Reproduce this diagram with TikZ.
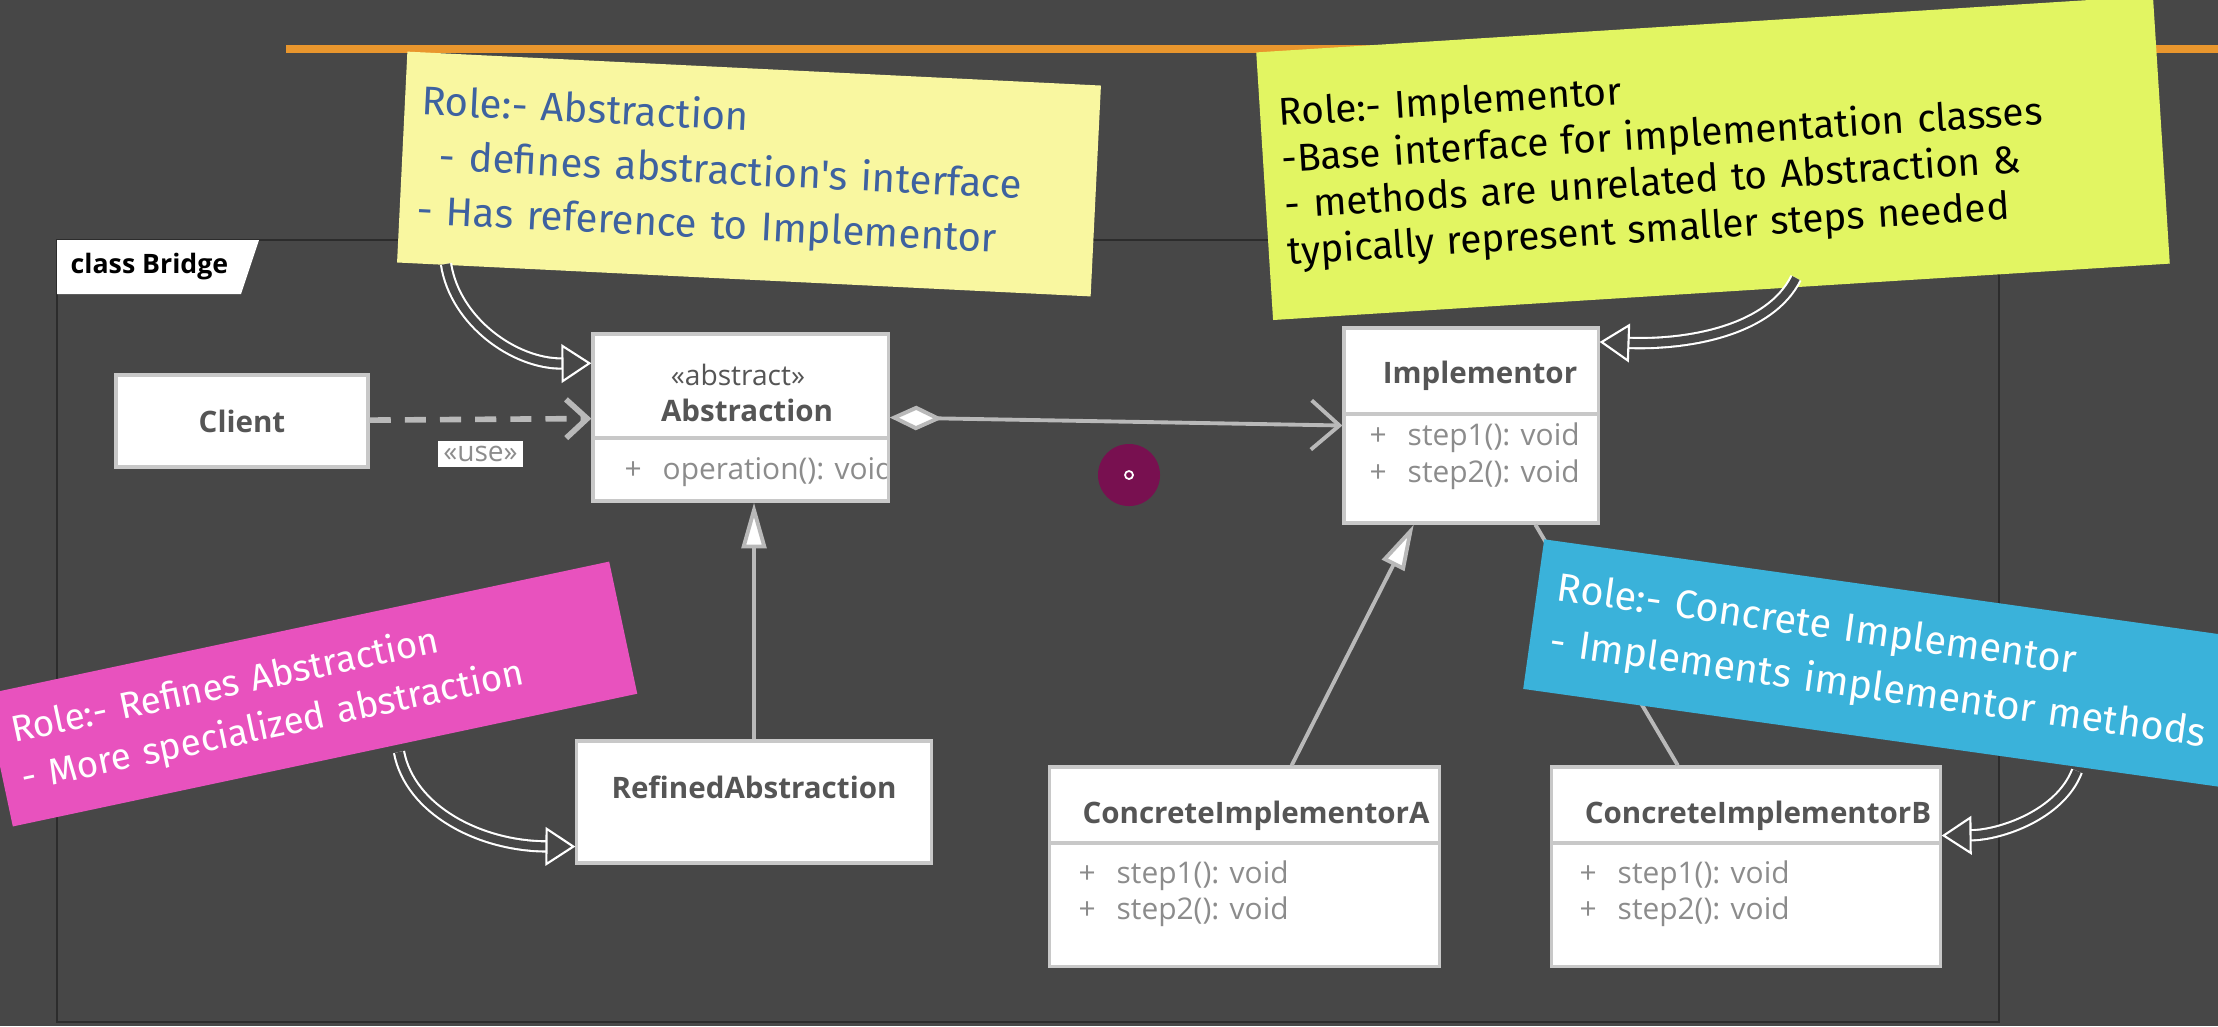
\documentclass[tikz,border=0pt]{standalone}
\usepackage{tikz}
\usetikzlibrary{positioning,shapes,arrows.meta}
\usepackage{xcolor}
\usepackage{fontspec}
\setmainfont{Open Sans}
\newfontfamily\handfont{Fira Sans}

\definecolor{bgdark}{RGB}{71,71,71}
\definecolor{framegray}{RGB}{44,44,44}
\definecolor{lineorange}{RGB}{233,150,45}
\definecolor{noteyellow}{RGB}{249,247,160}
\definecolor{noteblue}{RGB}{62,98,160}
\definecolor{notegreen}{RGB}{226,245,98}
\definecolor{notepink}{RGB}{232,82,190}
\definecolor{notecyan}{RGB}{58,178,218}
\definecolor{boxborder}{RGB}{200,200,200}
\definecolor{titlegray}{RGB}{85,85,85}
\definecolor{opgray}{RGB}{140,140,140}
\definecolor{connector}{RGB}{185,185,185}
\definecolor{cursorpurple}{RGB}{120,16,80}

\newcommand{\op}[1]{\makebox[0.38cm][l]{+}#1}

\begin{document}
\begin{tikzpicture}[x=0.01cm, y=-0.01cm,
    classbox/.style={rectangle, draw=boxborder, line width=0.9pt, fill=white, inner sep=0pt},
    classname/.style={font=\fontsize{8.4}{10}\selectfont\bfseries, text=titlegray, inner sep=0pt},
    member/.style={font=\fontsize{8.5}{10}\selectfont, text=opgray, anchor=west, inner sep=0pt},
    divider/.style={draw=boxborder, line width=0.9pt},
    sticky/.style={rectangle, inner sep=0pt, align=left},
    callout/.style={draw=white, line width=0.6pt, double=bgdark, double distance=2.3pt,
        -{Triangle[open, length=8.5pt, width=11pt]}},
    assoc/.style={draw=connector, line width=1.1pt},
    generalize/.style={assoc, -{Triangle[fill=white, length=13pt, width=7pt]}},
]
    \useasboundingbox (0,0) rectangle (2218,1026);
    \clip (0,0) rectangle (2218,1026);
    \fill[bgdark] (0,0) rectangle (2218,1026);

    % orange rule at the top
    \draw[lineorange, line width=2.4pt] (286,49) -- (2218,49);

    % diagram frame and its tab
    \draw[framegray, line width=0.7pt] (57,240) rectangle (1999,1022);
    \fill[white] (57,240) -- (259,240) -- (241,294) -- (57,294) -- cycle;
    \node (frametab) [anchor=west, inner sep=0pt, font=\fontsize{7.6}{9}\selectfont\bfseries, text=black] at (70,267) {class Bridge};

    % classes
    \node (client) [classbox, classname, minimum width=2.52cm, minimum height=0.92cm] at (242,421) {Client};

    \node (abs) [classbox, minimum width=2.95cm, minimum height=1.67cm] at (740.5,417.5) {};
    \draw[divider] (593,438) -- (888,438);
    \node (absstereo) [font=\fontsize{8}{10}\selectfont, text=titlegray, inner sep=0pt] at (738,375) {«abstract»};
    \node (absname) [classname] at (747,410) {Abstraction};
    \begin{scope}
        \clip (593,438) rectangle (886,501);
        \node (absop) [member] at (624,472) {\op{operation(): void}};
    \end{scope}

    \node (impl) [classbox, minimum width=2.54cm, minimum height=1.95cm] at (1471,425.5) {};
    \draw[divider] (1344,414) -- (1598,414);
    \node (implname) [classname] at (1480,376) {Implementor};
    \node (implop1) [member] at (1369,438) {\op{step1(): void}};
    \node (implop2) [member] at (1369,475) {\op{step2(): void}};

    \node (refabs) [classbox, classname, text depth=0.3cm, minimum width=3.54cm, minimum height=1.22cm] at (754,802) {RefinedAbstraction};

    \node (cia) [classbox, minimum width=3.89cm, minimum height=1.99cm] at (1244.5,866.5) {};
    \draw[divider] (1050,843) -- (1439,843);
    \node (cianame) [classname] at (1256,816) {ConcreteImplementorA};
    \node (ciaop1) [member] at (1078,876) {\op{step1(): void}};
    \node (ciaop2) [member] at (1078,912) {\op{step2(): void}};

    \node (cib) [classbox, minimum width=3.88cm, minimum height=1.99cm] at (1746,866.5) {};
    \draw[divider] (1552,843) -- (1940,843);
    \node (cibname) [classname] at (1758,816) {ConcreteImplementorB};
    \node (cibop1) [member] at (1579,876) {\op{step1(): void}};
    \node (cibop2) [member] at (1579,912) {\op{step2(): void}};

    % relations
    \draw[draw=connector, line width=1.6pt, dash pattern=on 6pt off 4pt, -{Straight Barb[length=6pt, width=11pt]}]
        (client) -- node (uselabel) [anchor=north, yshift=-0.19cm, fill=white, inner sep=1.5pt, font=\fontsize{8}{10}\selectfont, text=opgray] {«use»} (abs);
    \draw[assoc, {Diamond[fill=white, length=15pt, width=7pt]}-{Straight Barb[length=8pt, width=14pt]}] (abs.east) -- (impl.west);
    \draw[generalize] (refabs.north) -- (refabs.north |- abs.south);
    \draw[generalize] (cia.65) -- (impl.240);
    \draw[assoc] (cib.124) -- (impl.-57);

    % cursor mark
    \node (cursor) [circle, fill=cursorpurple, minimum size=0.62cm, inner sep=0pt] at (1129,475) {};
    \node (cursordot) [circle, draw=white, line width=0.5pt, minimum size=0.08cm, inner sep=0pt] at (cursor) {};

    % sticky notes
    \node (absnote) [sticky, fill=noteyellow, text=noteblue, rotate=-2.8, minimum width=6.94cm, minimum height=2.11cm,
        text width=6.6cm, font=\handfont\fontsize{11.4}{15.5}\selectfont] at (749,174)
        {Role:- Abstraction\\\hspace*{0.5em}- defines abstraction's interface\\- Has reference to Implementor};
    \node (implnote) [sticky, fill=notegreen, text=black, rotate=3.6, minimum width=8.98cm, minimum height=2.68cm,
        text width=8.6cm, font=\handfont\fontsize{11}{13.2}\selectfont] at (1713,158)
        {Role:- Implementor\\-Base interface for implementation classes\\- methods are unrelated to Abstraction \&\\typically represent smaller steps needed};
    \node (refnote) [sticky, fill=notepink, text=white, rotate=12, minimum width=6.38cm, minimum height=1.35cm,
        text width=6cm, font=\handfont\fontsize{10.5}{14}\selectfont] at (311,694)
        {Role:- Refines Abstraction\\- More specialized abstraction};
    \node (concnote) [sticky, fill=notecyan, text=white, rotate=-8, anchor=west, minimum width=7.6cm, minimum height=1.51cm,
        text width=7.2cm, font=\handfont\fontsize{11.3}{15.5}\selectfont] at (1533,614)
        {Role:- Concrete Implementor\\- Implements implementor methods};

    % callouts from the notes
    \coordinate (abspin) at (446,264);
    \coordinate (implpin) at (1796,278);
    \coordinate (refpin) at (399,752);
    \coordinate (concpin) at (2077,771);
    \draw[callout] (abspin) .. controls (455,322) and (515,364) .. (abs.160);
    \draw[callout] (implpin) .. controls (1770,330) and (1690,345) .. (impl.33);
    \draw[callout] (refpin) .. controls (410,810) and (480,846) .. (refabs.194);
    \draw[callout] (concpin) .. controls (2060,815) and (2000,835) .. (cib.9);
\end{tikzpicture}
\end{document}
